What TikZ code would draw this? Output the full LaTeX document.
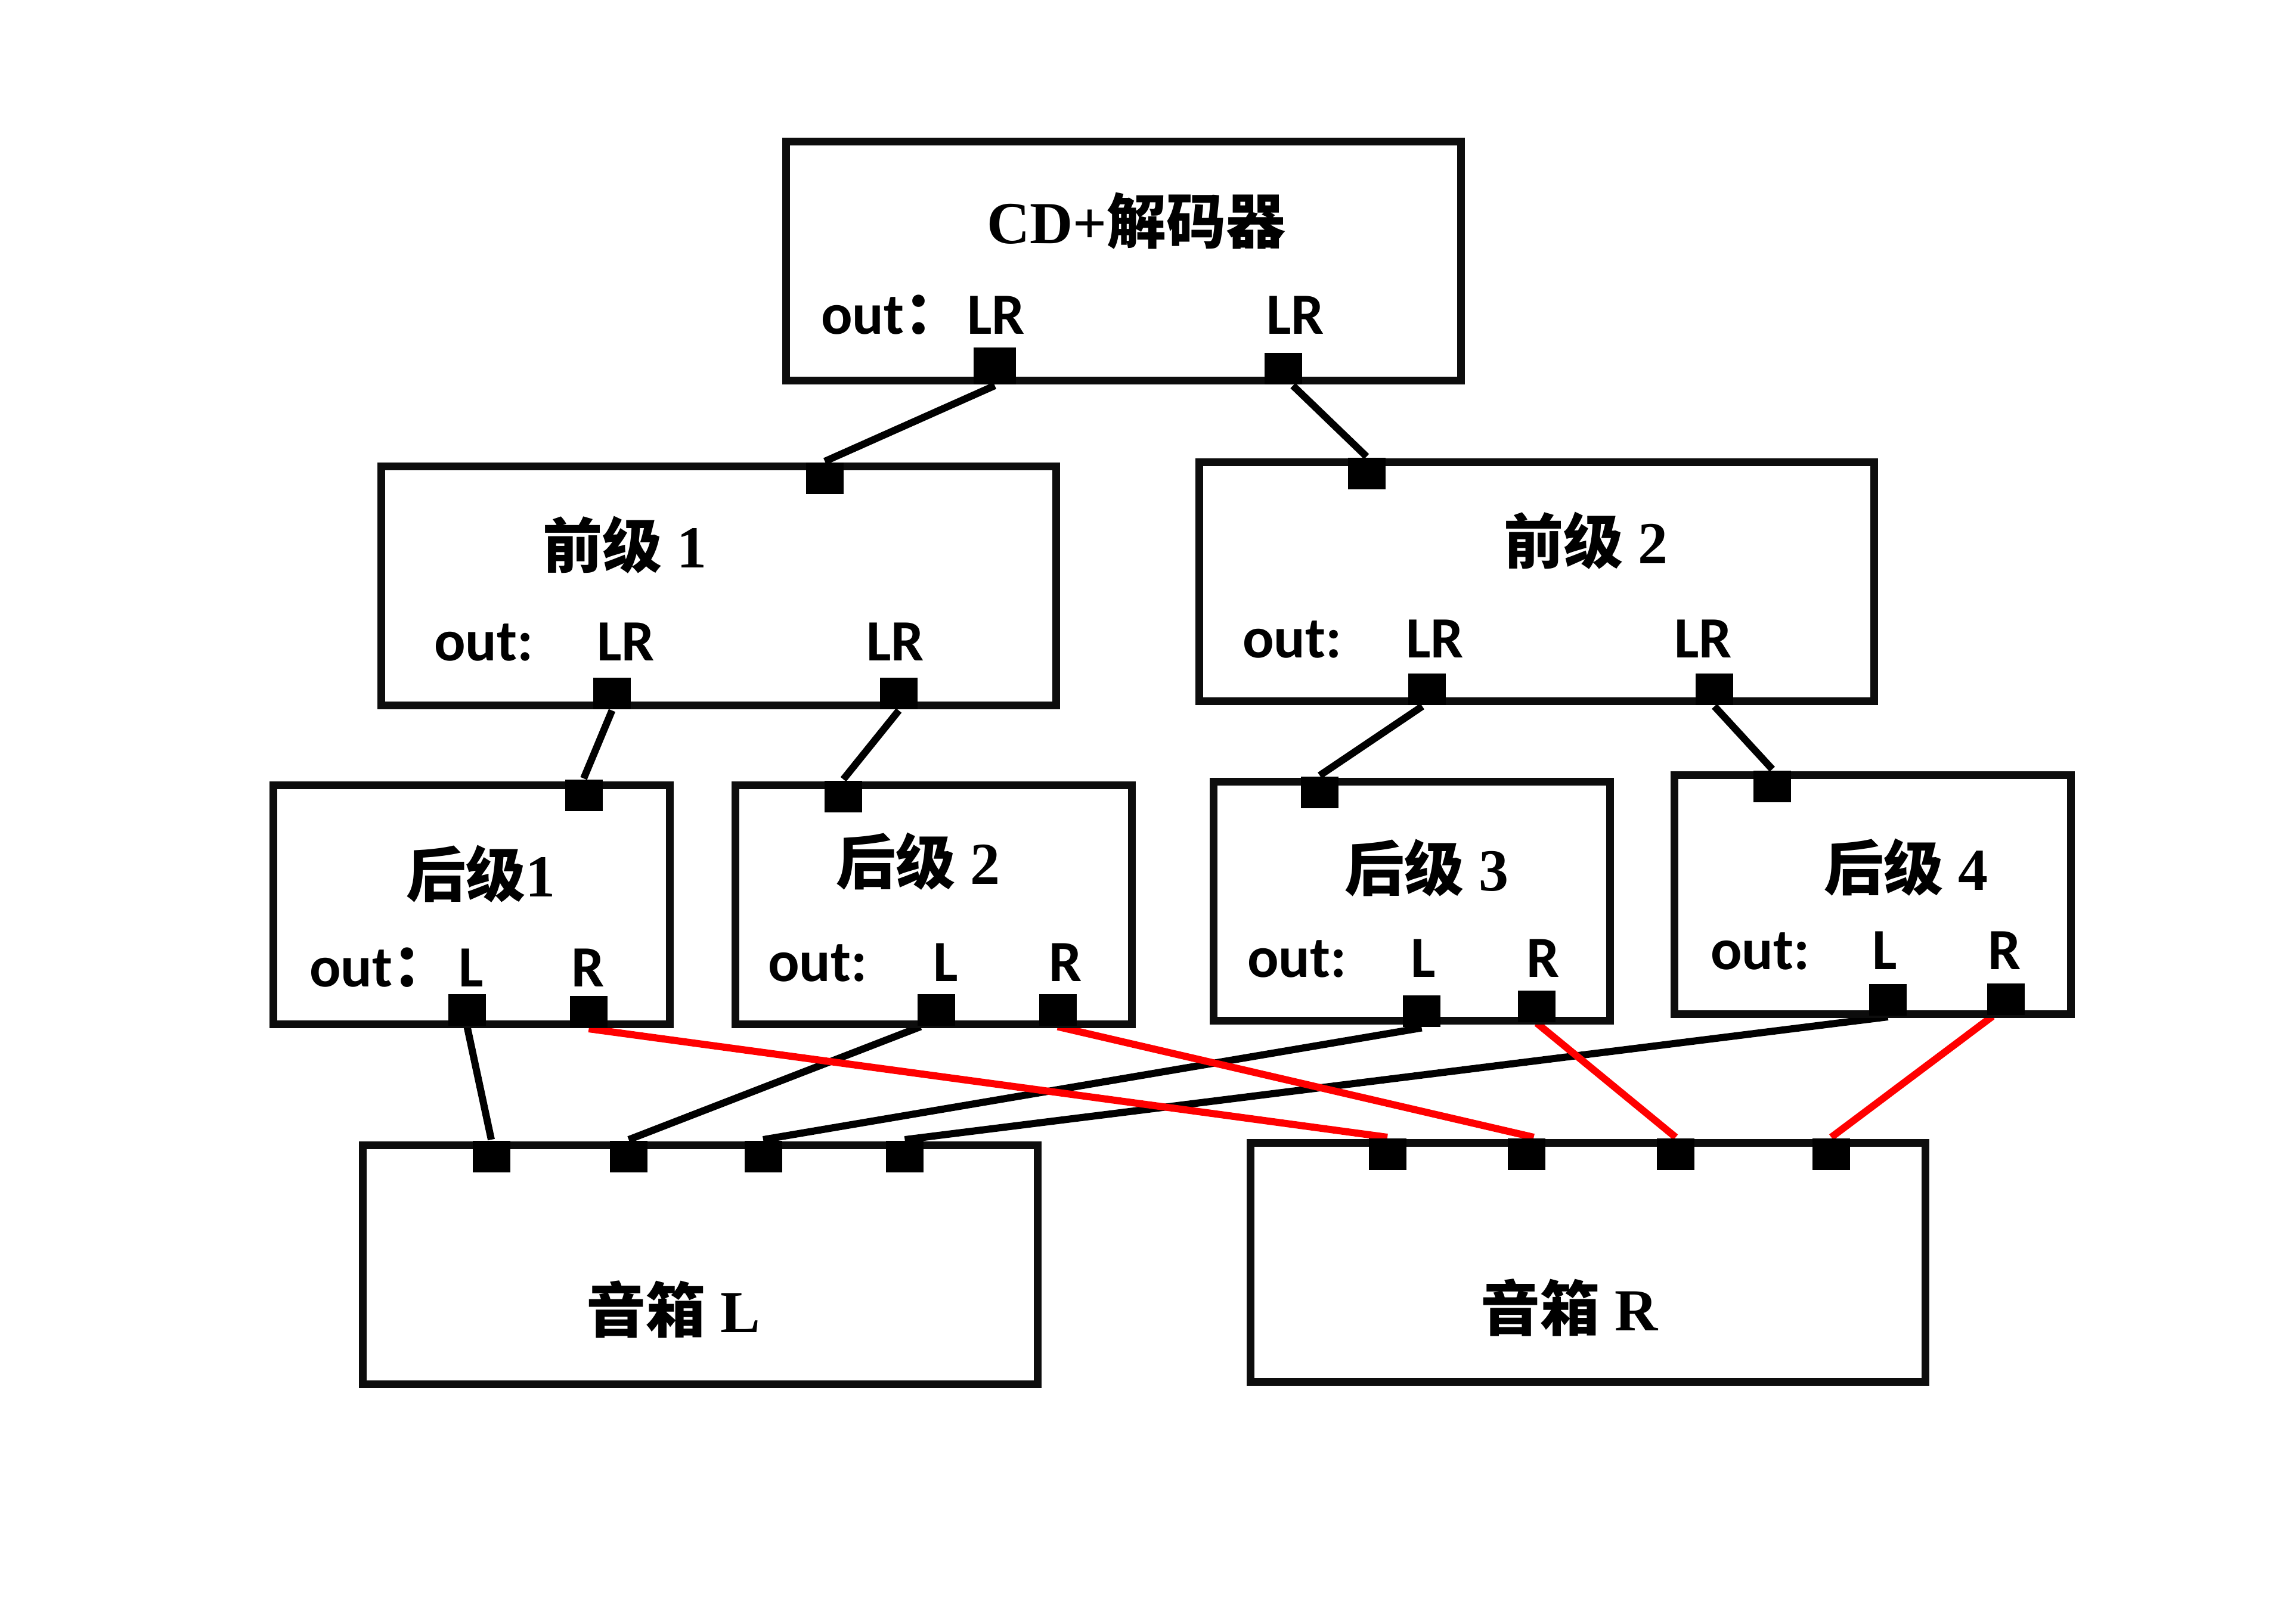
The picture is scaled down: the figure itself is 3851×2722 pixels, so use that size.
\documentclass[tikz,border=0pt]{standalone}
\usepackage{fontspec}
\setmainfont{Liberation Serif}
\newfontfamily\labf{Carlito}
\newfontfamily\cjk{Noto Sans CJK SC}
\usetikzlibrary{backgrounds}
\definecolor{boxc}{HTML}{0D0D0D}
\definecolor{wred}{HTML}{FF0000}
\tikzset{
  unitbox/.style={draw=boxc, line width=1.3pt, inner sep=0pt, minimum height=40.1pt},
  widebox/.style={unitbox, minimum width=113.2pt},
  narrowbox/.style={unitbox, minimum width=66.5pt},
  port/.style={fill=black, draw=none, inner sep=0pt, minimum width=6.3pt, minimum height=5.3pt},
  bigport/.style={port, minimum width=7.1pt, minimum height=6.2pt},
  wire/.style={line width=1.2pt, draw=black},
  rwire/.style={line width=1.2pt, draw=wred},
  title/.style={anchor=base west, inner sep=0pt, xshift=-0.7pt, font=\fontsize{10}{12}\selectfont\bfseries},
  lab/.style={anchor=base west, inner sep=0pt, xshift=-0.5pt, font=\labf\fontsize{9.8}{12}\selectfont\bfseries}
}
\begin{document}
\begin{tikzpicture}[x=0.1pt,y=-0.1pt]
\useasboundingbox (0,0) rectangle (3851,2722);
% boxes
\node[widebox] (cd) at (1884,437.5) {};
\node[widebox] (pre1) at (1205,982.5) {};
\node[widebox] (pre2) at (2577,975.5) {};
\node[narrowbox] (post1) at (790.5,1518) {};
\node[narrowbox] (post2) at (1566,1518) {};
\node[narrowbox] (post3) at (2368,1511.5) {};
\node[narrowbox] (post4) at (3140.5,1501) {};
\node[widebox] (spkL) at (1174,2121.5) {};
\node[widebox] (spkR) at (2663,2118) {};
% titles
\node[title] (tcd) at (1660,408) {CD+{\cjk 解码器}};
\node[title] (tpre1) at (915,952) {{\cjk 前级} 1};
\node[title] (tpre2) at (2527,945) {{\cjk 前级} 2};
\node[title] (tpost1) at (686,1504) {{\cjk 后级}1};
\node[title] (tpost2) at (1407,1483) {{\cjk 后级} 2};
\node[title] (tpost3) at (2260,1494) {{\cjk 后级} 3};
\node[title] (tpost4) at (3064,1493) {{\cjk 后级} 4};
\node[title] (tspkL) at (988,2235) {{\cjk 音箱} L};
\node[title] (tspkR) at (2488,2232) {{\cjk 音箱} R};
% labels
\node[lab] (ocd) at (1380,560) {out{\cjk ：}};
\node[lab] (lcd1) at (1625,560) {LR};
\node[lab] (lcd2) at (2127,560) {LR};
\node[lab] (opre1) at (731,1108) {out:};
\node[lab] (lpre1a) at (1004,1108) {LR};
\node[lab] (lpre1b) at (1456,1108) {LR};
\node[lab] (opre2) at (2087,1103) {out:};
\node[lab] (lpre2a) at (2361,1103) {LR};
\node[lab] (lpre2b) at (2811,1103) {LR};
\node[lab] (opost1) at (522,1655) {out{\cjk ：}};
\node[lab] (lpost1a) at (772,1655) {L};
\node[lab] (lpost1b) at (961,1655) {R};
\node[lab] (opost2) at (1291,1646) {out:};
\node[lab] (lpost2a) at (1568,1646) {L};
\node[lab] (lpost2b) at (1762,1646) {R};
\node[lab] (opost3) at (2095,1639) {out:};
\node[lab] (lpost3a) at (2369,1639) {L};
\node[lab] (lpost3b) at (2563,1639) {R};
\node[lab] (opost4) at (2872,1626) {out:};
\node[lab] (lpost4a) at (3143,1626) {L};
\node[lab] (lpost4b) at (3337,1626) {R};
% ports
\node[bigport] (cdA) at (1668.5,614) {};
\node[port] (cdB) at (2152.5,618.5) {};
\node[port] (pre1in) at (1383.5,802.5) {};
\node[port] (pre1A) at (1026.5,1163.5) {};
\node[port] (pre1B) at (1507.5,1163.5) {};
\node[port] (pre2in) at (2292,794.5) {};
\node[port] (pre2A) at (2393.5,1156.5) {};
\node[port] (pre2B) at (2875.5,1156.5) {};
\node[port] (post1in) at (979,1334.5) {};
\node[port] (post1L) at (783.5,1694) {};
\node[port] (post1R) at (987.5,1697.5) {};
\node[port] (post2in) at (1414.5,1336) {};
\node[port] (post2L) at (1570,1694) {};
\node[port] (post2R) at (1774,1694) {};
\node[port] (post3in) at (2213.5,1329.5) {};
\node[port] (post3L) at (2384.5,1696) {};
\node[port] (post3R) at (2577.5,1688) {};
\node[port] (post4in) at (2972.5,1319) {};
\node[port] (post4L) at (3166.5,1677.5) {};
\node[port] (post4R) at (3364,1676.5) {};
\node[port] (sL1) at (824,1940.5) {};
\node[port] (sL2) at (1054.5,1940.5) {};
\node[port] (sL3) at (1280,1940.5) {};
\node[port] (sL4) at (1517.5,1940.5) {};
\node[port] (sR1) at (2327,1936.5) {};
\node[port] (sR2) at (2560.5,1936.5) {};
\node[port] (sR3) at (2810.5,1936.5) {};
\node[port] (sR4) at (3071.5,1936.5) {};
% wires
\begin{scope}[on background layer]
\draw[wire] (cdA.south) -- (pre1in.north);
\draw[wire] ([xshift=1.6pt]cdB.south) -- (pre2in.north);
\draw[wire] (pre1A.south) -- (post1in.north);
\draw[wire] (pre1B.south) -- (post2in.north);
\draw[wire] ([xshift=-0.8pt]pre2A.south) -- (post3in.north);
\draw[wire] (pre2B.south) -- (post4in.north);
\draw[wire] (post1L.south) -- (sL1.north);
\draw[wire] ([xshift=-2.6pt]post2L.south) -- (sL2.north);
\draw[wire] (post3L.south) -- (sL3.north);
\draw[wire] (post4L.south) -- (sL4.north);
\draw[rwire] (post1R.south) -- (sR1.north);
\draw[rwire] (post2R.south) -- ([xshift=1.2pt]sR2.north);
\draw[rwire] (post3R.south) -- (sR3.north);
\draw[rwire] ([xshift=-2.2pt]post4R.south) -- (sR4.north);
\end{scope}
\end{tikzpicture}
\end{document}
